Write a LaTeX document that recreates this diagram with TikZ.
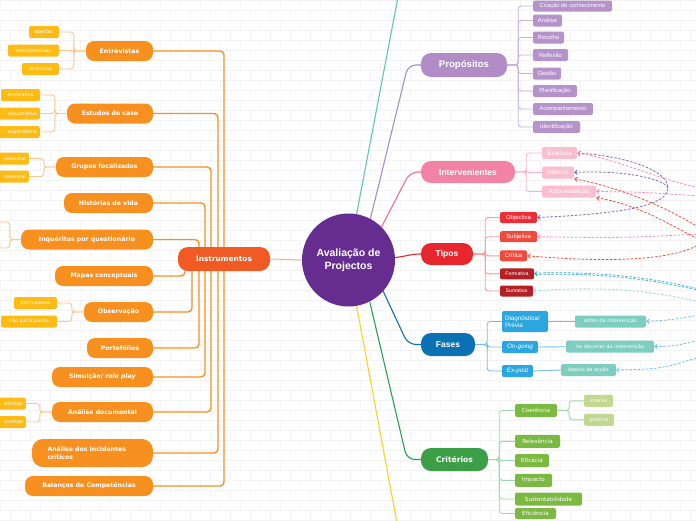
\documentclass[tikz,border=0pt]{standalone}
\usepackage{fontspec}
\setmainfont{DejaVu Sans}
\newfontfamily\lib{Liberation Sans}
\usetikzlibrary{arrows.meta}
\pgfdeclarelayer{bg}\pgfdeclarelayer{edges}\pgfsetlayers{bg,edges,main}
\definecolor{orM}{HTML}{F7901E}
\definecolor{orI}{HTML}{F05A24}
\definecolor{leafY}{HTML}{FDBB14}
\definecolor{orBr}{HTML}{FBC58F}
\definecolor{peach}{HTML}{F6B49A}
\definecolor{cpur}{HTML}{662D91}
\definecolor{proC}{HTML}{B18CC6}
\definecolor{proL}{HTML}{B592CA}
\definecolor{proBr}{HTML}{C9B2DB}
\definecolor{proLn}{HTML}{A98BC8}
\definecolor{intC}{HTML}{F283A7}
\definecolor{intL}{HTML}{F9BFD0}
\definecolor{intBr}{HTML}{F7B5C8}
\definecolor{intLn}{HTML}{F06C96}
\definecolor{tipC}{HTML}{E8262D}
\definecolor{tipA}{HTML}{EF2B36}
\definecolor{tipB}{HTML}{F04A3C}
\definecolor{tipD}{HTML}{B51F24}
\definecolor{tipBr}{HTML}{F79A9A}
\definecolor{fasC}{HTML}{0A71B3}
\definecolor{fasL}{HTML}{2BA6E1}
\definecolor{fasG}{HTML}{7ECEC0}
\definecolor{fasBr}{HTML}{7BBCE6}
\definecolor{criC}{HTML}{3C9E47}
\definecolor{criL}{HTML}{7CB943}
\definecolor{criG}{HTML}{C2D88E}
\definecolor{criBr}{HTML}{9BD8AF}
\definecolor{criLn}{HTML}{1FA64A}
\definecolor{tealLn}{HTML}{5DC9B0}
\definecolor{yelLn}{HTML}{FFD21F}
\definecolor{dPur}{HTML}{7C6BB6}
\definecolor{dPink}{HTML}{F48FB1}
\definecolor{dRed}{HTML}{EE4B3B}
\definecolor{dBlue}{HTML}{29A8E0}
\definecolor{dTeal}{HTML}{A3DCD2}
\definecolor{dLBlue}{HTML}{6FC0E8}
\definecolor{brick}{HTML}{F3F3F3}
\begin{document}
\begin{tikzpicture}[x=1pt,y=-1pt,
  lmain/.style={rounded corners=8pt, fill=orM, text=white, font=\bfseries\fontsize{6.2}{7.4}\selectfont, minimum height=20pt, inner sep=0pt},
  yleaf/.style={rounded corners=2pt, fill=leafY, text=white, font=\fontsize{4.8}{5.5}\selectfont, minimum height=12pt, inner sep=0pt},
  yleafcut/.style={rounded corners=2pt, fill=leafY, text=white, font=\fontsize{4.8}{5.5}\selectfont, minimum height=12pt, inner xsep=3pt, inner ysep=0pt, anchor=east, align=right, text width=#1},
  rmain/.style={rounded corners=10pt, text=white, font=\lib\bfseries\fontsize{8.5}{10}\selectfont, inner sep=0pt},
  rleaf/.style={rounded corners=2pt, text=white, font=\lib\fontsize{5.8}{6.8}\selectfont, minimum height=12pt, inner sep=0pt},
  gleaf/.style={rounded corners=2pt, text=white, font=\fontsize{5.6}{6.6}\selectfont, minimum height=13pt, inner sep=0pt},
  oline/.style={draw=orM, line width=1.4pt, rounded corners=4pt},
  ybr/.style={draw=orBr, line width=0.9pt, rounded corners=3pt},
  rel/.style={dash pattern=on 2.5pt off 1.6pt, line width=0.8pt},
  tip/.style={{Straight Barb[length=2.5pt,width=4.5pt]}-}
]
\useasboundingbox (0,0) rectangle (696,520);
\begin{pgfonlayer}{bg}
\fill[white] (0,0) rectangle (696,520);
\foreach \r in {0,...,52}{
  \draw[brick, line width=0.5pt] (0,\r*10) -- (696,\r*10);
  \foreach \c in {0,...,35}{
    \draw[brick, line width=0.5pt] ({\c*20+mod(\r,2)*10},\r*10) -- ++(0,10);
  }
}
\end{pgfonlayer}

% centre
\node[circle, fill=cpur, minimum size=93pt, inner sep=0pt, text=white, align=center,
  font=\lib\bfseries\fontsize{10.5}{12.8}\selectfont] (c) at (348.5,260) {Avaliação de\\Projectos};

% Instrumentos
\node[rounded corners=10pt, fill=orI, text=white, font=\bfseries\fontsize{7.4}{9}\selectfont,
  minimum width=92pt, minimum height=24pt, inner sep=0pt] (ins) at (224,259) {Instrumentos};

\node[lmain, minimum width=67pt] (ent) at (119.5,51) {Entrevistas};
\node[lmain, minimum width=86pt] (est) at (110,113.5) {Estudos de caso};
\node[lmain, minimum width=97pt] (gru) at (104.5,167) {Grupos focalizados};
\node[lmain, minimum width=89pt] (his) at (108.5,203) {Histórias de vida};
\node[lmain, minimum width=132pt] (inq) at (87,239.5) {Inquéritos por questionário};
\node[lmain, minimum width=98pt] (map) at (104,276) {Mapas conceptuais};
\node[lmain, minimum width=69pt] (obs) at (118.5,312) {Observação};
\node[lmain, minimum width=66pt] (por) at (120,348) {Portefólios};
\node[lmain, minimum width=101pt] (sim) at (102.5,377) {Simulção/ \textit{role play}};
\node[lmain, minimum width=101pt] (ana) at (102.5,412) {Análise documental};
\node[lmain, minimum width=121pt, minimum height=28pt, rounded corners=11pt, align=left, text width=90pt] (inc) at (92.5,453) {Análise dos Incidentes\\críticos};
\node[lmain, minimum width=128pt] (bal) at (89,486) {Balanços de Competências};

\node[yleaf, minimum width=30pt] (ab) at (44,32) {abertas};
\node[yleaf, minimum width=51pt] (semi) at (33.5,50.5) {semidirectivas};
\node[yleaf, minimum width=37pt] (dir) at (40.5,69) {directivas};
\node[yleaf, minimum width=39pt] (expl) at (20.5,95) {explicativo};
\node[yleafcut=44pt] (desc) at (40,113.5) {o/ilustrativo};
\node[yleafcut=44pt] (explo) at (40,132) {exploratório};
\node[yleafcut=30pt] (pres1) at (29,158.5) {resencial};
\node[yleafcut=30pt] (pres2) at (29,176.5) {resencial};
\node[yleaf, minimum width=43pt] (part) at (35.5,303) {participante};
\node[yleaf, minimum width=56pt] (npart) at (29,321.5) {não participante};
\node[yleafcut=28pt] (esc1) at (26,403.5) {escritas};
\node[yleafcut=28pt] (esc2) at (26,422) {escritas};
\coordinate (inqa) at (-5,222);
\coordinate (inqb) at (-5,248);

% right main nodes
\node[rmain, fill=proC, minimum width=86pt, minimum height=24pt, font=\lib\bfseries\fontsize{9.6}{11}\selectfont] (pro) at (464,65) {Propósitos};
\node[rmain, fill=intC, minimum width=94pt, minimum height=22pt] (int) at (468,172) {Intervenientes};
\node[rmain, fill=tipC, minimum width=52pt, minimum height=22pt] (tip) at (447,254) {Tipos};
\node[rmain, fill=fasC, minimum width=54pt, minimum height=23pt] (fas) at (448,344.5) {Fases};
\node[rmain, fill=criC, minimum width=67pt, minimum height=23pt, font=\bfseries\fontsize{7.6}{9}\selectfont] (cri) at (454.5,459.5) {Critérios};

% Propósitos children
\node[rleaf, fill=proL, minimum width=79pt, minimum height=11pt] (p1) at (572.5,6) {Criação de conhecimento};
\node[rleaf, fill=proL, minimum width=29pt] (p2) at (547.5,20.5) {Análise};
\node[rleaf, fill=proL, minimum width=31pt] (p3) at (548.5,37.5) {Recolha};
\node[rleaf, fill=proL, minimum width=35pt] (p4) at (550.5,55) {Reflexão};
\node[rleaf, fill=proL, minimum width=28pt] (p5) at (547,73.5) {Gestão};
\node[rleaf, fill=proL, minimum width=44pt] (p6) at (555,91) {Planificação};
\node[rleaf, fill=proL, minimum width=60pt] (p7) at (563,109) {Acompanhamento};
\node[rleaf, fill=proL, minimum width=47pt] (p8) at (556.5,127) {Identificação};

% Intervenientes children
\node[rleaf, fill=intL, minimum width=35pt, font=\lib\fontsize{6.2}{7}\selectfont] (ext) at (559.5,153) {Externos};
\node[rleaf, fill=intL, minimum width=32pt, font=\lib\fontsize{6.2}{7}\selectfont] (intn) at (558,172.5) {Internos};
\node[rleaf, fill=intL, minimum width=54pt, font=\lib\fontsize{6.2}{7}\selectfont] (auto) at (569,191.5) {Auto-avaliação};

% Tipos children
\node[rleaf, fill=tipA, minimum width=37pt, minimum height=11pt, font=\lib\fontsize{6}{7}\selectfont] (obj) at (518.5,217.5) {Objectiva};
\node[rleaf, fill=tipB, minimum width=37pt, minimum height=11pt, font=\lib\fontsize{6}{7}\selectfont] (sub) at (518.5,236.7) {Subjetiva};
\node[rleaf, fill=tipB, minimum width=27pt, minimum height=11pt, font=\lib\fontsize{6}{7}\selectfont] (crit) at (513.5,255.8) {Crítica};
\node[rleaf, fill=tipD, minimum width=34pt, minimum height=11pt, font=\lib\fontsize{5.2}{6}\selectfont] (form) at (517,273.8) {Formativa};
\node[rleaf, fill=tipD, minimum width=33pt, minimum height=11pt, font=\lib\fontsize{5.2}{6}\selectfont] (sum) at (516.5,291) {Sumativa};

% Fases children
\node[rleaf, fill=fasL, minimum width=46pt, minimum height=21pt, align=left, text width=40pt, font=\lib\fontsize{6.3}{7.4}\selectfont] (diag) at (525,321.5) {Diagnóstica/\\Prévia};
\node[rleaf, fill=fasL, minimum width=36pt, font=\lib\itshape\fontsize{6.3}{7.4}\selectfont] (ong) at (520,347) {On-going};
\node[rleaf, fill=fasL, minimum width=31pt, font=\lib\itshape\fontsize{6.3}{7.4}\selectfont] (expo) at (517.5,371) {Ex-post};
\node[rleaf, fill=fasG, minimum width=71pt, font=\fontsize{5}{6}\selectfont] (antes) at (610.5,321.5) {antes da intervenção};
\node[rleaf, fill=fasG, minimum width=88pt, font=\fontsize{5}{6}\selectfont] (dec) at (610,346.7) {no decorrer da intervenção};
\node[rleaf, fill=fasG, minimum width=55pt, font=\fontsize{5}{6}\selectfont] (dep) at (588.5,370) {depois da acção};

% Critérios children
\node[gleaf, fill=criL, minimum width=42pt] (coe) at (536,410.5) {Coerência};
\node[gleaf, fill=criL, minimum width=45pt] (rel) at (537.5,441.3) {Relevância};
\node[gleaf, fill=criL, minimum width=34pt] (efi) at (532,460.5) {Eficácia};
\node[gleaf, fill=criL, minimum width=37pt] (imp) at (533.5,480.3) {Impacto};
\node[gleaf, fill=criL, minimum width=67pt] (sus) at (548.5,499) {Sustentabilidade};
\node[gleaf, fill=criL, minimum width=41pt, minimum height=11pt] (efc) at (535.5,513.5) {Eficiência};
\node[gleaf, fill=criG, minimum width=29pt, minimum height=12pt, font=\fontsize{4.8}{5.6}\selectfont] (cint) at (598.5,400.8) {interna};
\node[gleaf, fill=criG, minimum width=30pt, minimum height=12pt, font=\fontsize{4.8}{5.6}\selectfont] (cext) at (599,419.8) {externa};

\coordinate (pj) at (668,188);
\coordinate (topT) at (398,-3);
\coordinate (botY) at (397,523);

\begin{pgfonlayer}{edges}
% left
\draw[draw=peach, line width=1pt] (ins.east) -- (c.west);
\foreach \n/\x in {ent/224,est/218,gru/211,his/205,inq/199,map/185,obs/192,por/199,sim/205,ana/211,inc/218,bal/224}
  \draw[oline] (\n.east) -| (\x,259);
\foreach \p/\l in {ent/ab,ent/semi,ent/dir,est/expl,est/desc,est/explo,gru/pres1,gru/pres2,obs/part,obs/npart,ana/esc1,ana/esc2}
  \draw[ybr] (\p.west) -- ++(-12,0) |- (\l.east);
\draw[ybr] (inq.west) -- ++(-11,0) |- (inqa);
\draw[ybr] (inq.west) -- ++(-11,0) |- (inqb);
% right main branches
\draw[draw=tealLn, line width=1.1pt] (c.80) -- (topT);
\draw[draw=proLn, line width=1.1pt, rounded corners=8pt] (c.62) -- (408,65) -- (pro.west);
\draw[draw=intLn, line width=1.1pt, rounded corners=8pt] (c.45) -- (410,172) -- (int.west);
\draw[draw=tipC, line width=1.1pt] (c.3) .. controls (408,256) and (410,254) .. (tip.west);
\draw[draw=fasC, line width=1.1pt, rounded corners=8pt] (c.-42) -- (408,344.5) -- (fas.west);
\draw[draw=criLn, line width=1.1pt, rounded corners=8pt] (c.-63) -- (407,459.5) -- (cri.west);
\draw[draw=yelLn, line width=1.1pt] (c.-80) -- (botY);
% right brackets
\foreach \l in {p1,p2,p3,p4,p5,p6,p7,p8}
  \draw[draw=proBr, line width=0.9pt, rounded corners=3pt] (pro.east) -- ++(11,0) |- (\l.west);
\foreach \l in {ext,intn,auto}
  \draw[draw=intBr, line width=0.9pt, rounded corners=3pt] (int.east) -- ++(11,0) |- (\l.west);
\foreach \l in {obj,sub,crit,form,sum}
  \draw[draw=tipBr, line width=0.9pt, rounded corners=3pt] (tip.east) -- ++(12,0) |- (\l.west);
\foreach \l in {diag,ong,expo}
  \draw[draw=fasBr, line width=0.9pt, rounded corners=3pt] (fas.east) -- ++(12,0) |- (\l.west);
\foreach \l in {coe,rel,efi,imp,sus,efc}
  \draw[draw=criBr, line width=0.9pt, rounded corners=3pt] (cri.east) -- ++(11,0) |- (\l.west);
\foreach \l in {cint,cext}
  \draw[draw=criBr, line width=0.9pt, rounded corners=3pt] (coe.east) -- ++(12,0) |- (\l.west);
\draw[draw=fasBr, line width=0.9pt] (diag.east) -- (antes.west);
\draw[draw=fasBr, line width=0.9pt] (ong.east) -- (dec.west);
\draw[draw=fasBr, line width=0.9pt] (expo.east) -- (dep.west);
% relationship lines
\draw[rel, draw=dPur, {Straight Barb[length=2.5pt,width=4.5pt]}-{Straight Barb[length=2.5pt,width=4.5pt]}]
  (obj.east) .. controls (620,214) and (668,206) .. (pj) .. controls (668,170) and (625,156) .. (ext.east);
\draw[rel, draw=dPur, -{Straight Barb[length=2.5pt,width=4.5pt]}] (pj) .. controls (664,178) and (620,170) .. (intn.east);
\draw[rel, draw=dPink, tip] (ext.east) .. controls (620,160) and (660,180) .. (700,188);
\draw[rel, draw=dPink, tip] (auto.east) .. controls (640,192) .. (700,196);
\draw[rel, draw=dPink, tip] (sub.east) .. controls (620,238) .. (700,234);
\draw[rel, draw=dRed, tip] (intn.south east) .. controls (630,190) and (670,210) .. (700,228);
\draw[rel, draw=dRed, tip] (auto.south east) .. controls (640,205) and (670,225) .. (700,240);
\draw[rel, draw=dRed, tip] (crit.east) .. controls (600,262) and (670,262) .. (700,244);
\draw[rel, draw=dBlue, double=white, double distance=0.8pt, line width=0.7pt, tip] (form.east) .. controls (600,272) and (650,278) .. (700,290);
\draw[rel, draw=dTeal, tip] (sum.east) .. controls (600,286) and (650,290) .. (700,302);
\draw[rel, draw=dLBlue, tip] (antes.east) .. controls (670,320) .. (700,315);
\draw[rel, draw=dLBlue, tip] (dec.east) .. controls (675,346) .. (700,340);
\draw[rel, draw=dLBlue, tip] (dep.east) .. controls (660,369) .. (700,357);
\end{pgfonlayer}
\end{tikzpicture}
\end{document}
